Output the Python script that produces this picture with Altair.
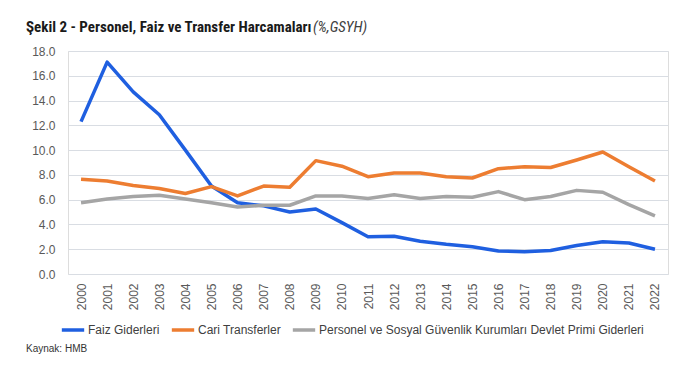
import altair as alt
import pandas as pd

years = [str(y) for y in range(2000, 2023)]
faiz = [12.3, 17.1, 14.7, 12.85, 10.0, 7.1, 5.75, 5.5, 5.0, 5.25, 4.15, 3.0, 3.05, 2.65, 2.4, 2.2, 1.85, 1.8, 1.9, 2.3, 2.6, 2.5, 2.0]
cari = [7.65, 7.5, 7.15, 6.9, 6.5, 7.05, 6.3, 7.1, 7.0, 9.15, 8.7, 7.85, 8.15, 8.15, 7.85, 7.75, 8.5, 8.65, 8.6, 9.2, 9.85, 8.65, 7.5]
personel = [5.75, 6.05, 6.25, 6.35, 6.05, 5.75, 5.4, 5.55, 5.55, 6.3, 6.3, 6.1, 6.4, 6.1, 6.25, 6.2, 6.65, 6.0, 6.25, 6.75, 6.6, 5.6, 4.7]

series_names = ["Faiz Giderleri", "Cari Transferler",
                "Personel ve Sosyal Güvenlik Kurumları Devlet Primi Giderleri"]
colors = ["#1f5fe0", "#ed7d31", "#a5a5a5"]

rows = []
for name, vals in zip(series_names, [faiz, cari, personel]):
    for y, v in zip(years, vals):
        rows.append({"Yıl": y, "Seri": name, "Değer": v})
df = pd.DataFrame(rows)

NARROW = "Liberation Sans Narrow, Roboto Condensed, Liberation Sans, Arial"
REG = "Liberation Sans, Arial"

lines = alt.Chart(df).mark_line(strokeWidth=3.5, strokeJoin="round").encode(
    x=alt.X("Yıl:O", scale=alt.Scale(type="point", padding=0.5),
            axis=alt.Axis(title=None, labelAngle=-90, labelFontSize=12, labelColor="#595959",
                          labelFont=REG, domain=False, ticks=False, labelPadding=9)),
    y=alt.Y("Değer:Q", scale=alt.Scale(domain=[0, 18], nice=False),
            axis=alt.Axis(title=None, values=[0, 2, 4, 6, 8, 10, 12, 14, 16, 18], format=".1f",
                          labelFontSize=12, labelColor="#595959", labelFont=REG,
                          domain=False, ticks=False, labelPadding=13,
                          gridColor="#d9dde3", gridWidth=1.2)),
    color=alt.Color("Seri:N", sort=series_names,
                    scale=alt.Scale(domain=series_names, range=colors),
                    legend=alt.Legend(title=None, orient="none", direction="horizontal",
                                      legendX=-8, legendY=266, symbolType="stroke",
                                      symbolSize=500, symbolStrokeWidth=3.5,
                                      labelFontSize=12, labelColor="#404040", labelFont=REG,
                                      labelLimit=500,
                                      columnPadding=4, symbolOffset=0, labelOffset=2)),
)

title_df = pd.DataFrame({"t": ["Şekil 2 - Personel, Faiz ve Transfer Harcamaları"]})
title = alt.Chart(title_df).mark_text(align="left", baseline="alphabetic", fontSize=15,
                                      fontWeight="bold", font=NARROW, color="#1a1a1a").encode(
    text="t:N", x=alt.value(-42), y=alt.value(-19))
sub_df = pd.DataFrame({"t": ["(%,GSYH)"]})
sub = alt.Chart(sub_df).mark_text(align="left", baseline="alphabetic", fontSize=15,
                                  fontStyle="italic", font=NARROW, color="#404040").encode(
    text="t:N", x=alt.value(245), y=alt.value(-19))
src_df = pd.DataFrame({"t": ["Kaynak: HMB"]})
src = alt.Chart(src_df).mark_text(align="left", baseline="middle", fontSize=10,
                                  font=REG, color="#333333").encode(
    text="t:N", x=alt.value(-42), y=alt.value(298))

chart = alt.layer(lines, title, sub, src).properties(
    width=600, height=223,
    autosize=alt.AutoSizeParams(type="none"),
    padding={"left": 60, "top": 43, "right": 16, "bottom": 87},
).configure_view(stroke=None).configure(background="white")

chart.save("out.html", embed_options={"renderer": "svg", "actions": False})
